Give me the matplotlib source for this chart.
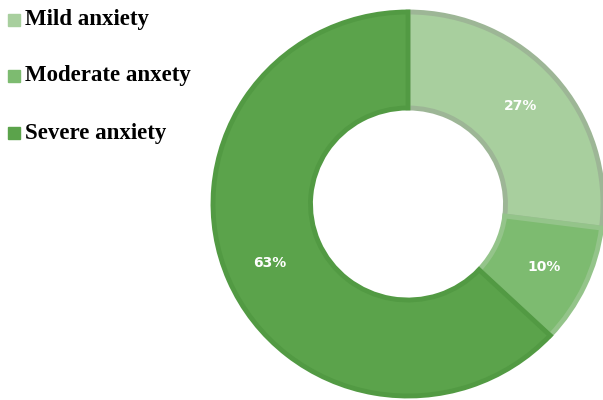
import matplotlib.pyplot as plt
from matplotlib.patches import Rectangle

labels = ["Mild anxiety", "Moderate anxety", "Severe anxiety"]
values = [27, 10, 63]
colors = ["#a8cf9e", "#7dbb70", "#5ba34b"]
edges = ["#9db696", "#94c48a", "#529a43"]

fig = plt.figure(figsize=(6.03, 4), dpi=100)
# donut is a bit squashed vertically in the original
ax = fig.add_axes([213 / 603, 4 / 400, 390 / 603, 384 / 400])

wedges, texts, autotexts = ax.pie(
    values, colors=colors, startangle=90, counterclock=False,
    autopct="%d%%", pctdistance=0.77, radius=1,
    wedgeprops=dict(width=0.5, linewidth=3.5),
    textprops=dict(color="white", fontsize=10, fontweight="bold"),
)
for w, ec in zip(wedges, edges):
    w.set_edgecolor(ec)
    w.set_clip_on(False)
ax.set_xlim(-1, 1)
ax.set_ylim(-1, 1)
ax.set_aspect("auto")
ax.axis("off")

# legend drawn by hand
ys = [20, 76, 133]
for lab, c, y in zip(labels, colors, ys):
    fig.patches.append(Rectangle((8 / 603, 1 - (y + 6) / 400), 12 / 603, 12 / 400,
                                 transform=fig.transFigure, color=c))
    fig.text(25 / 603, 1 - y / 400, lab, fontsize=16.5, fontweight="bold",
             family="Liberation Serif", va="center", ha="left")

fig.savefig("out.png", dpi=100)
